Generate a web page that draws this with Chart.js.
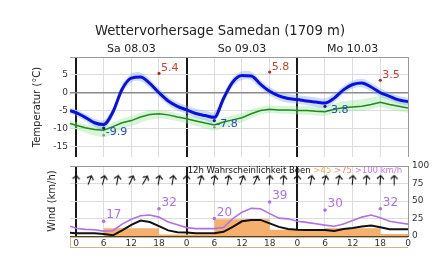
<!DOCTYPE html>
<html>
<head>
<meta charset="utf-8">
<script src="https://cdn.jsdelivr.net/npm/chart.js@4.4.1/dist/chart.umd.min.js"></script>
<style>
  body { margin: 0; background: #fff; }
  #wrap { position: relative; width: 440px; height: 271px; }
  canvas { position: absolute; left: 0; }
  #tempChart { top: 0; }
  #windChart { top: 160px; }
</style>
</head>
<body>
<div id="wrap">
  <canvas id="tempChart" width="440" height="160"></canvas>
  <canvas id="windChart" width="440" height="111"></canvas>
</div>
<script>
// hours since Sa 08.03 00:00
const hours = [-1.3, 0, 2, 4, 6, 8, 10, 12, 14, 16, 18, 20, 22, 24, 26, 28, 30, 32, 34, 36,
  38, 40, 42, 44, 46, 48, 50, 52, 54, 56, 58, 60, 62, 64, 66, 68, 70, 72];
const gridHours = [0, 6, 12, 18, 24, 30, 36, 42, 48, 54, 60, 66, 72];
const dayLabels = ['Sa 08.03', 'So 09.03', 'Mo 10.03'];
const dayCenters = [12, 36, 60];

// temperature (blue) with spread
const temp = [-5.0, -5.6, -6.9, -8.4, -8.9, -5.4, 1.0, 4.1, 4.4, 2.6, 0.0, -2.3, -3.8, -4.8, -5.8, -6.4, -6.9, -1.6, 3.0, 4.8,
  4.7, 2.4, 0.4, -0.9, -1.6, -1.9, -2.3, -2.6, -2.9, -1.5, 0.8, 2.3, 2.7, 1.6, 0.0, -1.0, -2.0, -2.5];
const tempHi = [-4.2, -4.7, -5.9, -7.3, -7.7, -4.3, 2.2, 5.3, 5.7, 3.8, 1.2, -1.1, -2.6, -3.6, -4.5, -5.0, -5.4, -0.4, 4.2, 6.0,
  5.9, 3.6, 1.6, 0.3, -0.4, -0.7, -1.0, -1.3, -1.6, -0.3, 1.9, 3.4, 3.9, 2.8, 1.2, 0.1, -0.9, -1.4];
const tempLo = [-5.9, -6.5, -7.9, -9.5, -10.1, -6.7, -0.1, 3.0, 3.2, 1.4, -1.2, -3.5, -5.0, -6.0, -7.0, -7.7, -8.3, -3.0, 1.8, 3.6,
  3.5, 1.2, -0.8, -2.1, -2.8, -3.1, -3.5, -3.9, -4.2, -2.7, -0.3, 1.2, 1.5, 0.4, -1.2, -2.1, -3.1, -3.6];

// dew point (green) with spread
const dew = [-8.6, -9.1, -9.8, -10.3, -10.5, -9.5, -8.4, -7.8, -6.8, -6.1, -5.9, -6.2, -6.8, -7.3, -7.9, -8.5, -9.0, -8.2, -7.6, -7.0,
  -5.9, -5.0, -4.6, -4.8, -4.8, -5.0, -5.0, -5.2, -5.3, -4.6, -4.2, -4.0, -3.8, -3.3, -2.7, -3.3, -3.8, -4.3];
const dewHi = [-7.8, -8.2, -8.8, -9.2, -9.4, -8.4, -7.2, -6.6, -5.7, -5.0, -4.9, -5.2, -5.8, -6.3, -6.8, -7.3, -7.8, -7.0, -6.3, -5.7,
  -4.7, -3.9, -3.6, -3.7, -3.7, -3.8, -3.7, -3.8, -3.8, -3.0, -2.4, -2.1, -1.8, -1.4, -1.0, -1.6, -2.3, -2.9];
const dewLo = [-9.8, -10.3, -11.2, -12.0, -12.4, -11.6, -10.2, -9.4, -8.4, -7.6, -7.2, -7.4, -8.0, -8.6, -9.3, -10.0, -10.6, -9.8, -9.0, -8.3,
  -7.1, -6.1, -5.7, -5.9, -5.9, -6.1, -6.2, -6.4, -6.5, -5.8, -5.3, -5.2, -5.0, -4.6, -4.0, -4.6, -5.1, -5.6];

const maxHours = [18, 42, 66];
const maxTemps = [5.4, 5.8, 3.5];
const minHours = [6, 30, 54];
const minTemps = [-9.9, -7.8, -3.8];
const minGrayHours = [6, 30];
const minGrayTemps = [-11.9, -9.7];

// wind (km/h)
const gusts = [14, 11, 9.5, 9, 7, 7.6, 17, 24, 29, 30, 27, 20, 16, 12, 10.5, 10.5, 10.5, 12, 25, 34,
  39.5, 39, 32, 25.5, 24.5, 21, 19.5, 17.5, 15.5, 14, 17, 22, 27, 30, 26, 21, 19, 17];
const wind = [4.5, 4, 4, 4, 3, 1, 8, 16, 22, 20, 14, 8, 5.5, 5, 4, 4, 4, 6, 13, 21,
  23, 23, 18, 13, 10, 9, 8.5, 8.5, 8.5, 7, 10, 11.5, 13.5, 15, 12.5, 9.5, 9.5, 9.5];
const probHours = [-1.3, 6, 18, 30, 42, 54, 66, 72];
const probGust45 = [0, 11, 2, 24, 9, 11, 3, 3];
const gustMaxHours = [6, 18, 30, 42, 54, 66];
const gustMaxY = [21, 39, 25, 48.5, 37, 39];
const gustMaxLabels = ['17', '32', '20', '39', '30', '32'];
const arrowHours = [0, 3, 6, 9, 12, 15, 18, 21, 24, 27, 30, 33, 36, 39, 42, 45, 48, 51, 54, 57, 60, 63, 66, 69];
const windDir = [5, 20, 15, 10, 25, 30, 10, 10, 0, 15, 10, 10, 20, 25, 5, 5, 5, 10, 15, 10, 5, 5, 5, 0];

const pts = (xs, ys) => xs.map((x, i) => ({ x: x, y: ys[i] }));

Chart.defaults.font.family = "'DejaVu Sans', sans-serif";
Chart.defaults.color = '#333';
Chart.defaults.animation = false;

// fixed axis sizes, no label overhang padding
const fixSize = (w, h) => a => {
  if (w !== null) a.width = w;
  if (h !== null) a.height = h;
  a.paddingTop = a.paddingBottom = a.paddingLeft = a.paddingRight = 0;
};

const pointLabels = {
  id: 'pointLabels',
  afterDatasetsDraw(chart) {
    const ctx = chart.ctx;
    chart.data.datasets.forEach((ds, i) => {
      if (!ds.labelTexts) return;
      const meta = chart.getDatasetMeta(i);
      ctx.save();
      ctx.font = ds.labelFont;
      ctx.fillStyle = ds.labelColor;
      ctx.textAlign = 'left';
      ctx.textBaseline = 'middle';
      meta.data.forEach((p, j) => ctx.fillText(ds.labelTexts[j], p.x + ds.labelDx, p.y + ds.labelDy));
      ctx.restore();
    });
  }
};

const xGridColor = c => [0, 24, 48].includes(c.tick.value) ? '#1a1a1a' : (c.tick.value === 72 ? '#9a9a9a' : '#dcdcdc');
const xGridWidth = c => [0, 24, 48].includes(c.tick.value) ? 2 : 1;

// ---------- temperature panel ----------
new Chart(document.getElementById('tempChart'), {
  type: 'line',
  data: {
    datasets: [
      { data: pts(maxHours, maxTemps), showLine: false, pointRadius: 1.6, pointBackgroundColor: '#a8321f', pointBorderWidth: 0,
        labelTexts: maxTemps.map(String), labelFont: '11px "DejaVu Sans"', labelColor: '#c0452f', labelDx: 2, labelDy: -5 },
      { data: pts(minHours, minTemps), showLine: false, pointRadius: 1.6, pointBackgroundColor: '#16237a', pointBorderWidth: 0,
        labelTexts: minTemps.map(String), labelFont: '11px "DejaVu Sans"', labelColor: '#2b4bb5', labelDx: 2, labelDy: 4 },
      { data: pts(minGrayHours, minGrayTemps), showLine: false, pointRadius: 1.2, pointBackgroundColor: '#8a8a8a', pointBorderWidth: 0 },
      { data: pts(hours, temp), borderColor: '#0a10e0', borderWidth: 3, pointRadius: 0, cubicInterpolationMode: 'monotone' },
      { data: pts(hours, dew), borderColor: '#1f8a1f', borderWidth: 1.5, pointRadius: 0 },
      { data: pts(hours, tempHi), borderWidth: 0, pointRadius: 0, tension: 0.3 },
      { data: pts(hours, tempLo), borderWidth: 0, pointRadius: 0, tension: 0.3, fill: '-1', backgroundColor: 'rgba(120,165,230,0.38)' },
      { data: pts(hours, dewHi), borderWidth: 0, pointRadius: 0, tension: 0.3 },
      { data: pts(hours, dewLo), borderWidth: 0, pointRadius: 0, tension: 0.3, fill: '-1', backgroundColor: 'rgba(150,230,150,0.38)' }
    ]
  },
  options: {
    responsive: false,
    layout: { autoPadding: false, padding: { left: 0, right: 0, top: 0, bottom: 3 } },
    plugins: {
      legend: { display: false },
      tooltip: { enabled: false },
      title: { display: true, text: 'Wettervorhersage Samedan (1709 m)', color: '#222',
        font: { size: 13.2, weight: 'normal' }, padding: { top: 24, bottom: 0 } }
    },
    scales: {
      x: {
        type: 'linear', min: -1.3, max: 72,
        afterBuildTicks: a => { a.ticks = gridHours.map(v => ({ value: v })); },
        afterFit: fixSize(null, 0),
        ticks: { display: false },
        grid: { color: xGridColor, lineWidth: xGridWidth, drawTicks: false },
        border: { display: false }
      },
      x2: {
        type: 'linear', position: 'top', min: -1.3, max: 72,
        afterBuildTicks: a => { a.ticks = dayCenters.map(v => ({ value: v })); },
        afterFit: fixSize(null, 17.2),
        ticks: { callback: (v, i) => dayLabels[i], font: { size: 11 }, color: '#222', padding: 1, maxRotation: 0 },
        grid: { display: false, drawTicks: false },
        border: { display: false }
      },
      y: {
        min: -18, max: 10,
        afterBuildTicks: a => { a.ticks = [-15, -10, -5, 0, 5, 10].map(v => ({ value: v })); },
        afterFit: fixSize(70, null),
        ticks: { callback: v => (v === 10 ? '' : String(v)), font: { size: 9 }, color: '#333', padding: 2 },
        grid: {
          color: c => c.tick.value === 0 ? '#8a8a8a' : (c.tick.value === 10 ? '#9a9a9a' : '#dcdcdc'),
          lineWidth: c => c.tick.value === 0 ? 1.6 : 1,
          drawTicks: false
        },
        border: { display: false },
        title: { display: true, text: 'Temperatur (°C)', color: '#222', font: { size: 10 }, padding: { top: 31, bottom: 0 } }
      },
      yr: {
        position: 'right', min: -18, max: 10,
        afterFit: fixSize(32, null),
        ticks: { display: false },
        grid: { display: false, drawTicks: false },
        border: { display: false }
      }
    }
  },
  plugins: [pointLabels]
});

// ---------- wind panel ----------
const arrowImg = document.createElement('canvas');
arrowImg.width = 9;
arrowImg.height = 11;
(function () {
  const c = arrowImg.getContext('2d');
  c.strokeStyle = '#111';
  c.lineWidth = 1.1;
  c.beginPath();
  c.moveTo(4.5, 10.5); c.lineTo(4.5, 1);
  c.moveTo(1, 4.5); c.lineTo(4.5, 1); c.lineTo(8, 4.5);
  c.stroke();
})();

const axisBox = {
  id: 'axisBox',
  afterDraw(chart) {
    const { left, right, bottom } = chart.chartArea;
    const ctx = chart.ctx;
    ctx.save();
    ctx.strokeStyle = '#cdb884';
    ctx.lineWidth = 1;
    ctx.beginPath();
    ctx.moveTo(left, bottom + 1.5); ctx.lineTo(right, bottom + 1.5);
    ctx.moveTo(left + 0.5, bottom + 1.5); ctx.lineTo(left + 0.5, bottom + 12);
    ctx.moveTo(left, bottom + 11.5); ctx.lineTo(right, bottom + 11.5);
    ctx.stroke();
    ctx.restore();
  }
};

const gustLegend = {
  id: 'gustLegend',
  afterDatasetsDraw(chart) {
    const ctx = chart.ctx;
    const parts = [['12h Wahrscheinlichkeit Böen ', '#111'], ['>45 ', '#efac62'], ['>75 ', '#ea8f76'], ['>100 km/h', '#c47ae6']];
    let x = chart.scales.x.getPixelForValue(24) + 1;
    ctx.save();
    ctx.font = '8.5px "DejaVu Sans"';
    ctx.textBaseline = 'middle';
    parts.forEach(([t, col]) => {
      ctx.fillStyle = col;
      ctx.fillText(t, x, chart.chartArea.top + 5);
      x += ctx.measureText(t).width;
    });
    ctx.restore();
  }
};

new Chart(document.getElementById('windChart'), {
  type: 'line',
  data: {
    datasets: [
      { data: pts(gustMaxHours, gustMaxY), showLine: false, pointRadius: 1.8, pointBackgroundColor: '#b070e6', pointBorderWidth: 0,
        labelTexts: gustMaxLabels, labelFont: '12px "DejaVu Sans"', labelColor: '#b070e6', labelDx: 2.5, labelDy: -6 },
      { data: pts(arrowHours, arrowHours.map(() => 80)), showLine: false, pointStyle: arrowImg, pointRotation: windDir, pointRadius: 5 },
      { data: pts(hours, wind), borderColor: '#111', borderWidth: 2, pointRadius: 0 },
      { data: pts(hours, gusts), borderColor: '#b070e6', borderWidth: 1.6, pointRadius: 0 },
      { data: pts(probHours, probGust45), stepped: true, fill: 'origin', backgroundColor: '#f4b06c', borderWidth: 0, pointRadius: 0 }
    ]
  },
  options: {
    responsive: false,
    layout: { autoPadding: false, padding: { left: 0, right: 0, top: 6, bottom: 0 } },
    plugins: { legend: { display: false }, tooltip: { enabled: false } },
    scales: {
      x: {
        type: 'linear', min: -1.3, max: 72,
        afterBuildTicks: a => { a.ticks = gridHours.map(v => ({ value: v })); },
        afterFit: fixSize(null, 35),
        ticks: { callback: v => String(v % 24), font: { size: 9 }, color: '#333', padding: 2, maxRotation: 0, autoSkip: false },
        grid: { color: xGridColor, lineWidth: xGridWidth, drawTicks: false },
        border: { display: true, color: '#444', width: 1 }
      },
      y: {
        min: 0, max: 100,
        afterBuildTicks: a => { a.ticks = [25, 50, 75, 100].map(v => ({ value: v })); },
        afterFit: fixSize(70, null),
        ticks: { display: false },
        grid: { color: c => c.tick.value === 100 ? '#9a9a9a' : '#dcdcdc', drawTicks: false },
        border: { display: false },
        title: { display: true, text: 'Wind (km/h)', color: '#222', font: { size: 10 }, padding: { top: 46, bottom: 0 } }
      },
      y2: {
        position: 'right', min: 0, max: 100,
        afterBuildTicks: a => { a.ticks = [0, 25, 50, 75, 100].map(v => ({ value: v })); },
        afterFit: fixSize(32, null),
        ticks: { font: { size: 9 }, color: '#333', padding: 4 },
        grid: { display: false, drawTicks: false },
        border: { display: false }
      }
    }
  },
  plugins: [pointLabels, axisBox, gustLegend]
});
</script>
</body>
</html>
